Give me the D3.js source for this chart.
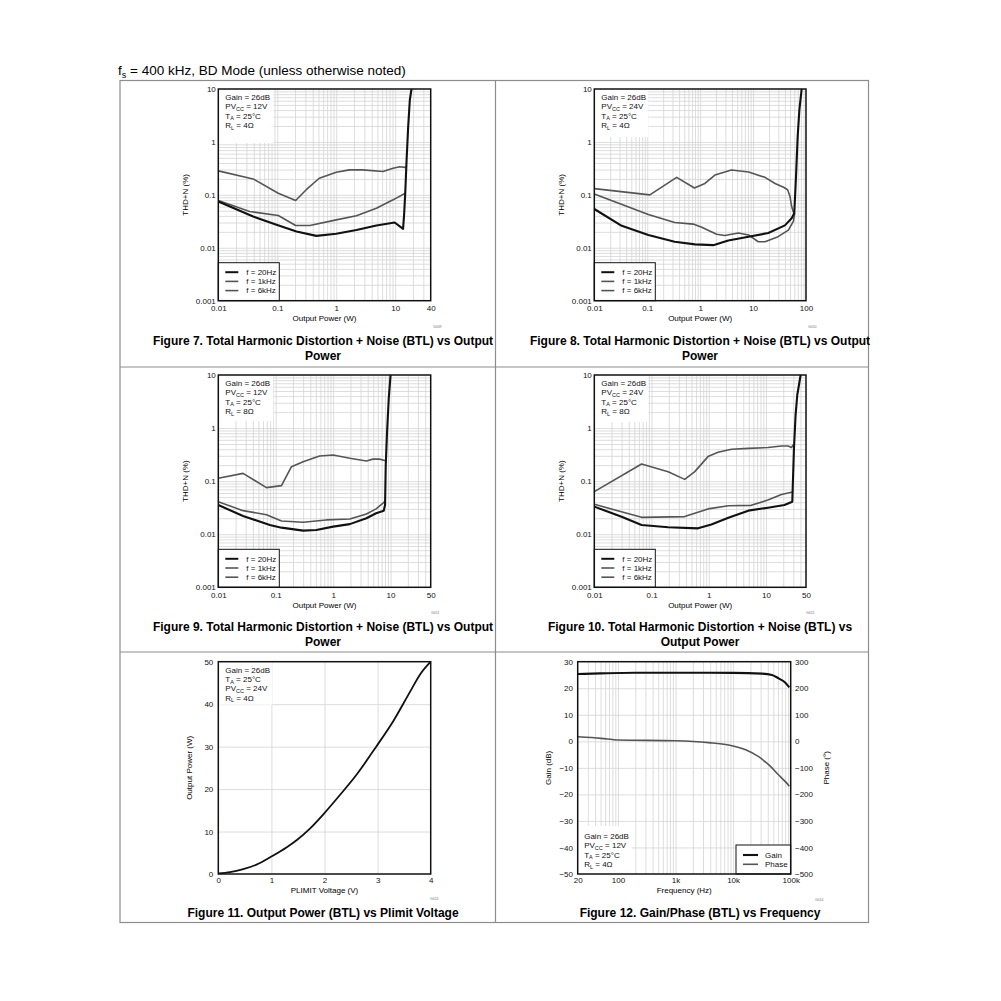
<!DOCTYPE html>
<html>
<head>
<meta charset="utf-8">
<script src="https://cdn.jsdelivr.net/npm/d3@7"></script>
<style>
body { margin: 0; background: #fff; }
svg { font-family: "Liberation Sans", Arial, sans-serif; }
</style>
</head>
<body>
<svg id="page" width="1001" height="1001"></svg>
<script>
// THD+N vs output power: [watts, percent]
const thdYTicks = [0.001, 0.01, 0.1, 1, 10];
const thdYLabels = ["0.001", "0.01", "0.1", "1", "10"];
const legendLabels = ["f = 20Hz", "f = 1kHz", "f = 6kHz"];

const fig7XTicks = [0.01, 0.1, 1, 10, 40];
const fig7_20Hz = [[0.01, 0.0748], [0.039, 0.039], [0.097, 0.0272], [0.212, 0.0203], [0.46, 0.0168], [1.0, 0.0184], [2.2, 0.0217], [4.8, 0.0264], [9.8, 0.030], [13.6, 0.0228], [14.2, 0.045], [14.8, 0.107], [15.6, 0.457], [16.6, 1.95], [17.7, 6.2], [18.9, 10]];
const fig7_1kHz = [[0.01, 0.078], [0.034, 0.0485], [0.104, 0.0407], [0.205, 0.0264], [0.357, 0.0264], [1.0, 0.0337], [2.2, 0.0403], [4.8, 0.056], [9.2, 0.0805], [14.3, 0.105], [14.7, 0.107]];
const fig7_6kHz = [[0.01, 0.284], [0.039, 0.2], [0.104, 0.107], [0.205, 0.078], [0.31, 0.125], [0.515, 0.206], [1.0, 0.268], [1.67, 0.296], [2.8, 0.296], [6.2, 0.276], [9.2, 0.318], [11.9, 0.34], [14.6, 0.33], [15.3, 0.33]];

const fig8XTicks = [0.01, 0.1, 1, 10, 100];
const fig8_20Hz = [[0.01, 0.054], [0.033, 0.026], [0.105, 0.0174], [0.33, 0.013], [0.8, 0.0116], [1.77, 0.0112], [3.4, 0.0137], [8.2, 0.0162], [19.4, 0.019], [40, 0.0265], [53.6, 0.036], [60, 0.045], [64.7, 0.22], [69.6, 1.26], [74.9, 4.0], [82.8, 10]];
const fig8_1kHz = [[0.01, 0.104], [0.105, 0.0427], [0.33, 0.030], [0.74, 0.028], [1.07, 0.0244], [2.05, 0.018], [2.9, 0.017], [5.3, 0.019], [8.2, 0.0175], [12.5, 0.013], [16.8, 0.013], [29.7, 0.0162], [46.5, 0.0216], [58, 0.032], [61, 0.045]];
const fig8_6kHz = [[0.01, 0.131], [0.112, 0.1], [0.36, 0.214], [0.78, 0.135], [1.23, 0.164], [1.9, 0.237], [3.9, 0.294], [8.2, 0.27], [16.8, 0.214], [26, 0.164], [37.6, 0.139], [45, 0.125], [50, 0.092], [53.6, 0.06], [57.5, 0.048], [61, 0.042]];

const fig9XTicks = [0.01, 0.1, 1, 10, 50];
const fig9_20Hz = [[0.01, 0.0355], [0.027, 0.022], [0.079, 0.0149], [0.126, 0.0133], [0.3, 0.0117], [0.51, 0.012], [1.0, 0.0139], [1.95, 0.0155], [3.8, 0.02], [5.6, 0.0248], [7.6, 0.0278], [8.02, 0.0355], [8.24, 0.2], [8.7, 0.86], [9.3, 3.64], [10, 10]];
const fig9_1kHz = [[0.01, 0.041], [0.027, 0.0278], [0.069, 0.0233], [0.126, 0.0178], [0.3, 0.0168], [0.76, 0.0186], [1.95, 0.0193], [3.8, 0.024], [5.6, 0.03], [7.3, 0.038], [8.0, 0.042]];
const fig9_6kHz = [[0.01, 0.113], [0.027, 0.14], [0.069, 0.0755], [0.126, 0.0825], [0.188, 0.187], [0.3, 0.233], [0.58, 0.298], [1.0, 0.31], [1.95, 0.27], [3.8, 0.24], [4.9, 0.26], [6.45, 0.26], [7.9, 0.245], [8.25, 0.245]];

const fig10XTicks = [0.01, 0.1, 1, 10, 50];
const fig10_20Hz = [[0.01, 0.0331], [0.03, 0.0214], [0.067, 0.0149], [0.195, 0.0135], [0.65, 0.0129], [1.11, 0.0153], [2.2, 0.0205], [4.9, 0.0278], [10.8, 0.0316], [21, 0.0355], [28.8, 0.041], [30.8, 0.415], [32.9, 1.76], [35.2, 4.2], [40.3, 10]];
const fig10_1kHz = [[0.01, 0.0366], [0.067, 0.0208], [0.38, 0.0215], [0.97, 0.03], [2.2, 0.0345], [5.5, 0.035], [10.8, 0.044], [18.6, 0.056], [27.9, 0.062], [30, 0.063]];
const fig10_6kHz = [[0.01, 0.0634], [0.067, 0.211], [0.195, 0.151], [0.38, 0.108], [0.57, 0.151], [0.97, 0.29], [1.45, 0.35], [2.5, 0.40], [4.9, 0.415], [10.8, 0.43], [18.6, 0.46], [24.3, 0.46], [27.9, 0.43], [29.6, 0.48], [30.6, 0.47]];

// output power vs PLIMIT voltage
const fig11Volts = [0, 0.22, 0.47, 0.72, 1.0, 1.29, 1.48, 1.73, 2.01, 2.29, 2.61, 2.98, 3.30, 3.61, 3.8, 4.0];
const fig11Watts = [0.15, 0.45, 1.15, 2.2, 4.1, 6.3, 8.0, 10.75, 14.5, 18.6, 23.5, 30.1, 36.1, 42.9, 47.0, 50];
const fig11XTicks = [0, 1, 2, 3, 4];
const fig11YTicks = [0, 10, 20, 30, 40, 50];

// gain / phase vs frequency
const gainFreq = [20, 50, 200, 1000, 10000, 31700, 47300, 61800, 80700, 94600];
const gainDb = [25.35, 25.6, 25.85, 25.85, 25.8, 25.5, 25.0, 23.7, 22.1, 20.3];
const phaseFreq = [20, 51, 100, 1000, 3740, 8340, 16900, 27700, 41900, 61800, 80700, 94600];
const phaseDeg = [17, 11, 5, 2, -5, -14, -33, -58, -89, -127, -152, -169];
const freqTicks = [20, 100, 1000, 10000, 100000];
const freqLabels = ["20", "100", "1k", "10k", "100k"];
const gainTicks = [-50, -40, -30, -20, -10, 0, 10, 20, 30];
const phaseTicks = [-500, -400, -300, -200, -100, 0, 100, 200, 300];

const cond12V4 = [["Gain = 26dB", "", ""], ["PV", "CC", " = 12V"], ["T", "A", " = 25°C"], ["R", "L", " = 4Ω"]];
const cond24V4 = [["Gain = 26dB", "", ""], ["PV", "CC", " = 24V"], ["T", "A", " = 25°C"], ["R", "L", " = 4Ω"]];
const cond12V8 = [["Gain = 26dB", "", ""], ["PV", "CC", " = 12V"], ["T", "A", " = 25°C"], ["R", "L", " = 8Ω"]];
const cond24V8 = [["Gain = 26dB", "", ""], ["PV", "CC", " = 24V"], ["T", "A", " = 25°C"], ["R", "L", " = 8Ω"]];
const cond11 = [["Gain = 26dB", "", ""], ["T", "A", " = 25°C"], ["PV", "CC", " = 24V"], ["R", "L", " = 4Ω"]];

const svg = d3.select("#page");
const BLACK = "#111", GREY = "#555", GRID = "#d4d4d4";

const minus = d => String(d).replace("-", "\u2212");

// header
const hdr = svg.append("text").attr("x", 118).attr("y", 75).attr("font-size", 13.5);
hdr.append("tspan").text("f");
hdr.append("tspan").attr("font-size", 9).attr("dy", 3).text("s");
hdr.append("tspan").attr("dy", -3).text(" = 400 kHz, BD Mode (unless otherwise noted)");

// table lines
const tbl = svg.append("g").attr("stroke", "#8c8c8c").attr("stroke-width", 1.2).attr("fill", "none");
tbl.append("rect").attr("x", 120).attr("y", 80.5).attr("width", 748.5).attr("height", 842);
[367, 652].forEach(yy => tbl.append("line").attr("x1", 120).attr("x2", 868.5).attr("y1", yy).attr("y2", yy));
tbl.append("line").attr("x1", 495.5).attr("x2", 495.5).attr("y1", 80.5).attr("y2", 922.5);

function annotate(g, x0, y0, lines) {
  lines.forEach((ln, i) => {
    const t = g.append("text").attr("x", x0).attr("y", y0 + i * 9.3).attr("font-size", 8).attr("fill", "#111");
    t.append("tspan").text(ln[0]);
    if (ln[1]) {
      t.append("tspan").attr("font-size", 5.5).attr("dy", 1.6).text(ln[1]);
      t.append("tspan").attr("dy", -1.6).text(ln[2]);
    }
  });
}

function styleAxis(sel, size) {
  sel.attr("font-family", null).attr("font-size", size);
  sel.select(".domain").remove();
  sel.selectAll("text").attr("fill", "#111");
}

// grid lines drawn with an axis whose ticks span the plot
function grid(g, scale, orient, vals, len, pos) {
  const ax = (orient === "x" ? d3.axisBottom(scale) : d3.axisLeft(scale))
    .tickValues(vals).tickSize(-len).tickFormat("");
  const a = g.append("g")
    .attr("transform", orient === "x" ? `translate(0,${pos})` : `translate(${pos},0)`)
    .call(ax);
  a.select(".domain").remove();
  a.selectAll("line").attr("stroke", GRID).attr("stroke-width", 0.8);
}

function titleLines(lines, cx, y0) {
  lines.forEach((s, i) => svg.append("text").attr("x", cx).attr("y", y0 + i * 15)
    .attr("text-anchor", "middle").attr("font-size", 12).attr("font-weight", "bold").text(s));
}

function code(x0, y0, s) {
  svg.append("text").attr("x", x0).attr("y", y0).attr("font-size", 3.5).attr("fill", "#777").text(s);
}

function thdPanel(p) {
  const g = svg.append("g");
  const w = p.right - p.left, h = p.bottom - p.top;
  const x = d3.scaleLog().domain([0.01, p.xTicks[p.xTicks.length - 1]]).range([p.left, p.right]);
  const y = d3.scaleLog().domain([0.001, 10]).range([p.bottom, p.top]);

  const xGrid = x.ticks().filter(v => v > 0.0100001 && v < x.domain()[1] * 0.9999);
  const yGrid = y.ticks().filter(v => v > 0.0010001 && v < 9.999);
  grid(g, x, "x", xGrid, h, p.bottom);
  grid(g, y, "y", yGrid, w, p.left);

  // condition box
  g.append("rect").attr("x", p.left).attr("y", p.top).attr("width", p.boxW).attr("height", p.boxH).attr("fill", "#fff");
  annotate(g, p.left + 7, p.top + 11, p.cond);

  // legend
  const lg = g.append("g").attr("transform", `translate(${p.left},${p.bottom - 38})`);
  lg.append("rect").attr("width", 61).attr("height", 38).attr("fill", "#fff").attr("stroke", BLACK).attr("stroke-width", 1);
  legendLabels.forEach((s, i) => {
    const yy = 9.5 + i * 9.2;
    lg.append("line").attr("x1", 7).attr("x2", 20).attr("y1", yy).attr("y2", yy)
      .attr("stroke", i === 0 ? BLACK : GREY).attr("stroke-width", i === 0 ? 2 : 1.6);
    lg.append("text").attr("x", 28).attr("y", yy + 2.8).attr("font-size", 8).attr("fill", "#111").text(s);
  });

  const line = d3.line().x(d => x(d[0])).y(d => y(d[1]));
  [[p.s6k, GREY, 1.6], [p.s1k, GREY, 1.6], [p.s20, BLACK, 2.1]].forEach(([d, c, sw]) =>
    g.append("path").datum(d).attr("d", line).attr("fill", "none").attr("stroke", c)
      .attr("stroke-width", sw).attr("stroke-linejoin", "round"));

  g.append("rect").attr("x", p.left).attr("y", p.top).attr("width", w).attr("height", h)
    .attr("fill", "none").attr("stroke", BLACK).attr("stroke-width", 1.5);

  const xa = g.append("g").attr("transform", `translate(0,${p.bottom})`)
    .call(d3.axisBottom(x).tickValues(p.xTicks).tickFormat(d => String(d)).tickSize(0).tickPadding(4.6));
  styleAxis(xa, 8);
  const ya = g.append("g").attr("transform", `translate(${p.left},0)`)
    .call(d3.axisLeft(y).tickValues(thdYTicks).tickFormat((d, i) => thdYLabels[i]).tickSize(0).tickPadding(2.5));
  styleAxis(ya, 8);

  g.append("text").attr("x", (p.left + p.right) / 2).attr("y", p.bottom + 20.5).attr("text-anchor", "middle")
    .attr("font-size", 8).text("Output Power (W)");
  g.append("text").attr("transform", `translate(${p.left - 30},${(p.top + p.bottom) / 2}) rotate(-90)`)
    .attr("text-anchor", "middle").attr("font-size", 8).text("THD+N (%)");
}

thdPanel({ left: 218.3, right: 430.7, top: 89, bottom: 300.7, xTicks: fig7XTicks, boxW: 55, boxH: 54, cond: cond12V4, s20: fig7_20Hz, s1k: fig7_1kHz, s6k: fig7_6kHz });
thdPanel({ left: 594.3, right: 806, top: 89, bottom: 300.7, xTicks: fig8XTicks, boxW: 54, boxH: 48, cond: cond24V4, s20: fig8_20Hz, s1k: fig8_1kHz, s6k: fig8_6kHz });
thdPanel({ left: 218.3, right: 430.7, top: 375, bottom: 587.3, xTicks: fig9XTicks, boxW: 55, boxH: 46, cond: cond12V8, s20: fig9_20Hz, s1k: fig9_1kHz, s6k: fig9_6kHz });
thdPanel({ left: 594.3, right: 806, top: 375, bottom: 587.3, xTicks: fig10XTicks, boxW: 54, boxH: 47, cond: cond24V8, s20: fig10_20Hz, s1k: fig10_1kHz, s6k: fig10_6kHz });

titleLines(["Figure 7. Total Harmonic Distortion + Noise (BTL) vs Output", "Power"], 323, 344.5);
titleLines(["Figure 8. Total Harmonic Distortion + Noise (BTL) vs Output", "Power"], 700, 344.5);
titleLines(["Figure 9. Total Harmonic Distortion + Noise (BTL) vs Output", "Power"], 323, 630.7);
titleLines(["Figure 10. Total Harmonic Distortion + Noise (BTL) vs", "Output Power"], 700, 630.7);
titleLines(["Figure 11. Output Power (BTL) vs Plimit Voltage"], 323, 917.3);
titleLines(["Figure 12. Gain/Phase (BTL) vs Frequency"], 700, 917.3);
code(433, 328, "G009"); code(808, 328, "G010");
code(431, 614, "G011"); code(806, 614, "G012");
code(430, 900, "G013"); code(815, 901, "G014");

// Figure 11
(function () {
  const L = 218.3, R = 430.7, T = 661.7, B = 874, w = R - L, h = B - T;
  const g = svg.append("g");
  const x = d3.scaleLinear().domain([0, 4]).range([L, R]);
  const y = d3.scaleLinear().domain([0, 50]).range([B, T]);
  grid(g, x, "x", [1, 2, 3], h, B);
  grid(g, y, "y", [10, 20, 30, 40], w, L);
  g.append("rect").attr("x", L).attr("y", T).attr("width", 54).attr("height", 43).attr("fill", "#fff");
  annotate(g, L + 7, T + 11, cond11);
  const line = d3.line().curve(d3.curveMonotoneX).x((d, i) => x(fig11Volts[i])).y((d, i) => y(fig11Watts[i]));
  g.append("path").datum(fig11Volts).attr("d", line).attr("fill", "none").attr("stroke", BLACK).attr("stroke-width", 1.8);
  g.append("rect").attr("x", L).attr("y", T).attr("width", w).attr("height", h)
    .attr("fill", "none").attr("stroke", BLACK).attr("stroke-width", 1.5);
  styleAxis(g.append("g").attr("transform", `translate(0,${B})`)
    .call(d3.axisBottom(x).tickValues(fig11XTicks).tickFormat(d3.format("d")).tickSize(0).tickPadding(3.3)), 8);
  styleAxis(g.append("g").attr("transform", `translate(${L},0)`)
    .call(d3.axisLeft(y).tickValues(fig11YTicks).tickFormat(d3.format("d")).tickSize(0).tickPadding(5)), 8);
  g.append("text").attr("x", (L + R) / 2).attr("y", B + 19).attr("text-anchor", "middle").attr("font-size", 8).text("PLIMIT Voltage (V)");
  g.append("text").attr("transform", `translate(${L - 26},${(T + B) / 2}) rotate(-90)`)
    .attr("text-anchor", "middle").attr("font-size", 8).text("Output Power (W)");
})();

// Figure 12
(function () {
  const L = 577.7, R = 790.7, T = 661.7, B = 874, w = R - L, h = B - T;
  const g = svg.append("g");
  const x = d3.scaleLog().domain([20, 100000]).range([L, R]);
  const yG = d3.scaleLinear().domain([-50, 30]).range([B, T]);
  const yP = d3.scaleLinear().domain([-500, 300]).range([B, T]);
  grid(g, x, "x", x.ticks().filter(v => v > 20 && v < 100000), h, B);
  grid(g, yG, "y", gainTicks.slice(1, -1), w, L);
  g.append("rect").attr("x", L).attr("y", 826).attr("width", 54).attr("height", B - 826).attr("fill", "#fff");
  annotate(g, L + 6.5, 839, cond12V4);

  const lg = g.append("g").attr("transform", `translate(736,845)`);
  lg.append("rect").attr("width", R - 736).attr("height", B - 845).attr("fill", "#fff").attr("stroke", BLACK).attr("stroke-width", 1);
  [["Gain", BLACK, 2.1], ["Phase", GREY, 1.6]].forEach(([s, c, sw], i) => {
    const yy = 10 + i * 9.3;
    lg.append("line").attr("x1", 7).attr("x2", 22).attr("y1", yy).attr("y2", yy).attr("stroke", c).attr("stroke-width", sw);
    lg.append("text").attr("x", 29).attr("y", yy + 2.8).attr("font-size", 8).attr("fill", "#111").text(s);
  });

  const pl = d3.line().curve(d3.curveMonotoneX).x((d, i) => x(phaseFreq[i])).y(d => yP(d));
  const gl = d3.line().curve(d3.curveMonotoneX).x((d, i) => x(gainFreq[i])).y(d => yG(d));
  g.append("path").datum(phaseDeg).attr("d", pl).attr("fill", "none").attr("stroke", GREY).attr("stroke-width", 1.6);
  g.append("path").datum(gainDb).attr("d", gl).attr("fill", "none").attr("stroke", BLACK).attr("stroke-width", 2.1);

  g.append("rect").attr("x", L).attr("y", T).attr("width", w).attr("height", h)
    .attr("fill", "none").attr("stroke", BLACK).attr("stroke-width", 1.5);
  styleAxis(g.append("g").attr("transform", `translate(0,${B})`)
    .call(d3.axisBottom(x).tickValues(freqTicks).tickFormat((d, i) => freqLabels[i]).tickSize(0).tickPadding(3.3)), 8);
  styleAxis(g.append("g").attr("transform", `translate(${L},0)`)
    .call(d3.axisLeft(yG).tickValues(gainTicks).tickFormat(minus).tickSize(0).tickPadding(4.7)), 8);
  styleAxis(g.append("g").attr("transform", `translate(${R},0)`)
    .call(d3.axisRight(yP).tickValues(phaseTicks).tickFormat(minus).tickSize(0).tickPadding(4.3)), 8);
  g.append("text").attr("x", (L + R) / 2).attr("y", B + 19).attr("text-anchor", "middle").attr("font-size", 8).text("Frequency (Hz)");
  g.append("text").attr("transform", `translate(${L - 27},${(T + B) / 2}) rotate(-90)`)
    .attr("text-anchor", "middle").attr("font-size", 8).text("Gain (dB)");
  g.append("text").attr("transform", `translate(${R + 38},${(T + B) / 2}) rotate(-90)`)
    .attr("text-anchor", "middle").attr("font-size", 8).text("Phase (°)");
})();
</script>
</body>
</html>
